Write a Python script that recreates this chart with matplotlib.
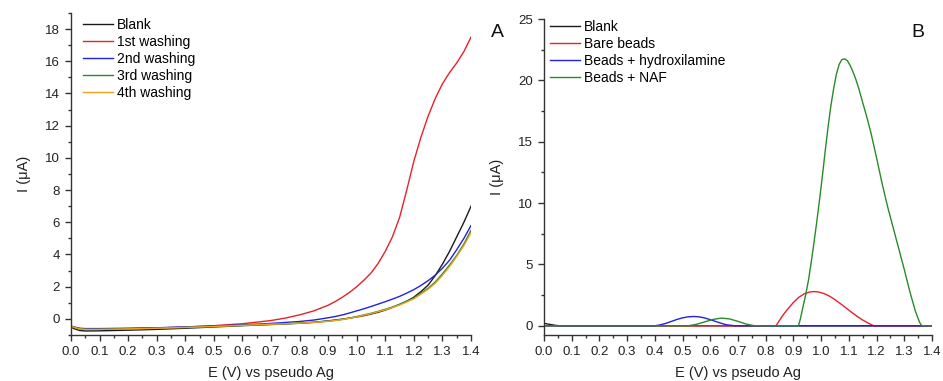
import matplotlib
matplotlib.use('Agg')
import matplotlib.pyplot as plt
from matplotlib.ticker import MultipleLocator, FormatStrFormatter

plt.rcParams['font.family'] = ['Liberation Sans', 'DejaVu Sans']

# Panel A: linear sweep voltammograms after each washing
e_a = [0.0, 0.01, 0.03, 0.05, 0.1, 0.2, 0.3, 0.4, 0.5, 0.6, 0.7, 0.75, 0.8,
       0.85, 0.9, 0.925, 0.95, 0.975, 1.0, 1.025, 1.05, 1.075, 1.1, 1.125,
       1.15, 1.175, 1.2, 1.225, 1.25, 1.275, 1.3, 1.325, 1.35, 1.375, 1.4]
blank_a = [-0.5, -0.6, -0.72, -0.75, -0.74, -0.7, -0.65, -0.58, -0.5, -0.42,
           -0.35, -0.31, -0.27, -0.21, -0.12, -0.07, -0.01, 0.05, 0.12, 0.2,
           0.3, 0.41, 0.55, 0.71, 0.9, 1.1, 1.35, 1.7, 2.1, 2.7, 3.4, 4.2,
           5.1, 6.0, 7.0]
wash1 = [-0.45, -0.5, -0.6, -0.62, -0.62, -0.6, -0.56, -0.5, -0.42, -0.3,
         -0.1, 0.05, 0.25, 0.5, 0.85, 1.08, 1.35, 1.65, 2.0, 2.4, 2.85, 3.45,
         4.2, 5.1, 6.3, 8.0, 9.8, 11.3, 12.6, 13.7, 14.6, 15.3, 15.9, 16.6,
         17.5]
wash2 = [-0.45, -0.5, -0.58, -0.6, -0.6, -0.58, -0.55, -0.5, -0.44, -0.37,
         -0.28, -0.22, -0.16, -0.07, 0.07, 0.15, 0.25, 0.37, 0.5, 0.63, 0.77,
         0.92, 1.07, 1.23, 1.4, 1.6, 1.82, 2.08, 2.38, 2.72, 3.15, 3.65, 4.3,
         5.0, 5.8]
wash3 = [-0.45, -0.52, -0.62, -0.65, -0.65, -0.62, -0.58, -0.53, -0.47, -0.4,
         -0.33, -0.3, -0.26, -0.21, -0.14, -0.09, -0.03, 0.05, 0.15, 0.25,
         0.35, 0.47, 0.6, 0.74, 0.9, 1.1, 1.3, 1.6, 1.9, 2.3, 2.8, 3.35, 3.95,
         4.65, 5.5]
wash4 = [-0.45, -0.52, -0.62, -0.65, -0.65, -0.62, -0.58, -0.53, -0.47, -0.4,
         -0.33, -0.3, -0.26, -0.22, -0.15, -0.1, -0.04, 0.04, 0.13, 0.23,
         0.33, 0.45, 0.57, 0.71, 0.86, 1.05, 1.25, 1.54, 1.84, 2.22, 2.7,
         3.25, 3.88, 4.55, 5.35]

# Panel B: baseline-corrected peaks
e_blank = [0.0, 0.02, 0.04, 0.06, 1.4]
blank_b = [0.2, 0.12, 0.04, 0.0, 0.0]
e_bare = [0.0, 0.837, 0.85, 0.865, 0.88, 0.9, 0.92, 0.94, 0.96, 0.975, 0.99,
          1.01, 1.03, 1.05, 1.07, 1.09, 1.11, 1.13, 1.15, 1.17, 1.19, 1.4]
bare = [0.0, 0.0, 0.45, 0.95, 1.38, 1.9, 2.33, 2.62, 2.76, 2.79, 2.76,
        2.63, 2.42, 2.13, 1.8, 1.45, 1.1, 0.77, 0.47, 0.22, 0.0, 0.0]
e_hyd = [0.0, 0.4, 0.42, 0.44, 0.46, 0.48, 0.5, 0.52, 0.54, 0.56, 0.58, 0.6,
         0.62, 0.64, 0.66, 0.69, 1.4]
hyd = [0.0, 0.0, 0.08, 0.2, 0.36, 0.52, 0.65, 0.73, 0.76, 0.73, 0.64, 0.5,
       0.35, 0.2, 0.08, 0.0, 0.0]
e_naf = [0.0, 0.52, 0.55, 0.58, 0.61, 0.64, 0.67, 0.7, 0.73, 0.76, 0.918,
         0.925, 0.935, 0.945, 0.955, 0.965, 0.975, 0.985, 0.995, 1.005,
         1.015, 1.025, 1.035, 1.045, 1.055, 1.065, 1.075, 1.085, 1.095,
         1.105, 1.115, 1.125, 1.135, 1.145, 1.155, 1.165, 1.18, 1.2, 1.22,
         1.24, 1.26, 1.28, 1.3, 1.32, 1.34, 1.355, 1.363, 1.4]
naf = [0.0, 0.0, 0.12, 0.32, 0.52, 0.63, 0.56, 0.36, 0.14, 0.0, 0.0, 0.55,
       1.6, 2.6, 3.8, 5.3, 6.9, 8.6, 10.4, 12.3, 14.3, 16.2, 17.9, 19.3,
       20.5, 21.3, 21.7, 21.75, 21.6, 21.2, 20.7, 20.1, 19.4, 18.6, 17.8,
       17.0, 15.7, 13.7, 11.6, 9.7, 8.0, 6.3, 4.6, 2.8, 1.2, 0.3, 0.0, 0.0]

c_black = '#1a1a1a'
c_red = '#e8202a'
c_blue = '#2222dd'
c_green = '#2a8a2a'
c_orange = '#f0a020'
lw = 1.0

fig = plt.figure(figsize=(9.43, 3.81), dpi=100)
ax1 = fig.add_axes([0.0753, 0.1207, 0.4242, 0.8453])
ax2 = fig.add_axes([0.5769, 0.1207, 0.4114, 0.8294])

ax1.plot(e_a, blank_a, color=c_black, lw=lw, label='Blank')
ax1.plot(e_a, wash1, color=c_red, lw=lw, label='1st washing')
ax1.plot(e_a, wash2, color=c_blue, lw=lw, label='2nd washing')
ax1.plot(e_a, wash3, color=c_green, lw=lw, label='3rd washing')
ax1.plot(e_a, wash4, color=c_orange, lw=lw, label='4th washing')
ax1.set_ylim(-1, 19)
ax1.yaxis.set_major_locator(MultipleLocator(2))
ax1.yaxis.set_minor_locator(MultipleLocator(1))

ax2.plot(e_blank, blank_b, color=c_black, lw=lw, label='Blank')
ax2.plot(e_bare, bare, color=c_red, lw=lw, label='Bare beads')
ax2.plot(e_hyd, hyd, color=c_blue, lw=lw, label='Beads + hydroxilamine')
ax2.plot(e_naf, naf, color=c_green, lw=lw, label='Beads + NAF')
ax2.set_ylim(-0.75, 25)
ax2.yaxis.set_major_locator(MultipleLocator(5))
ax2.yaxis.set_minor_locator(MultipleLocator(2.5))

for ax, lx, ly in [(ax1, 0.03, 0.985), (ax2, 0.015, 0.998)]:
    ax.set_xlim(0, 1.4)
    ax.xaxis.set_major_locator(MultipleLocator(0.1))
    ax.xaxis.set_minor_locator(MultipleLocator(0.05))
    ax.xaxis.set_major_formatter(FormatStrFormatter('%.1f'))
    ax.spines['top'].set_visible(False)
    ax.spines['right'].set_visible(False)
    for s in ['left', 'bottom']:
        ax.spines[s].set_color('#333333')
        ax.spines[s].set_linewidth(1.0)
    ax.tick_params(which='major', direction='out', length=4, width=1,
                   color='#333333', labelsize=9.5, labelcolor='#222222', pad=4)
    ax.tick_params(which='minor', direction='out', length=2.5, width=1,
                   color='#333333')
    ax.set_xlabel('E (V) vs pseudo Ag', fontsize=10.5, color='#222222',
                  labelpad=6)
    ax.set_ylabel('I (μA)', fontsize=10.5, color='#222222', labelpad=10)
    ax.legend(loc='upper left', bbox_to_anchor=(lx, ly), frameon=False,
              fontsize=10, handlelength=2.15, handletextpad=0.3,
              labelspacing=0.22, borderaxespad=0, borderpad=0)

fig.text(0.527, 0.916, 'A', fontsize=14, color='#111111', ha='center',
         va='center')
fig.text(0.973, 0.916, 'B', fontsize=14, color='#111111', ha='center',
         va='center')

fig.savefig('out.png', dpi=100)
